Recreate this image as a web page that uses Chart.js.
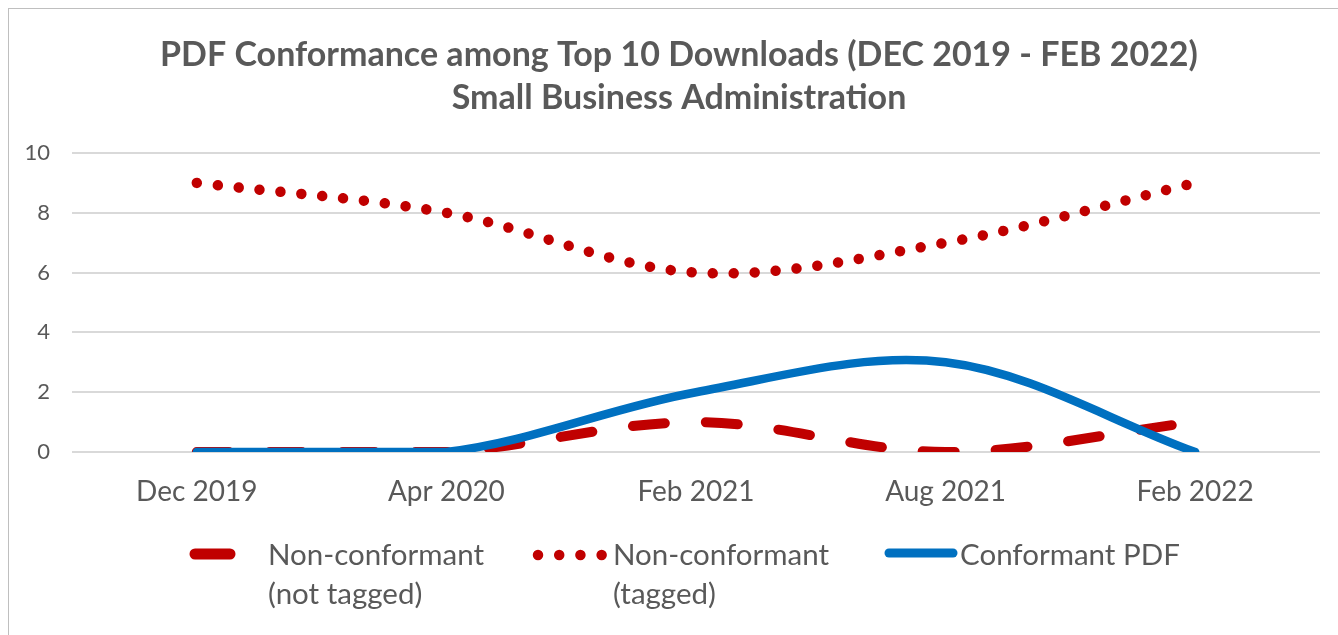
<!DOCTYPE html>
<html>
<head>
<meta charset="utf-8">
<script src="https://cdn.jsdelivr.net/npm/chart.js@4/dist/chart.umd.min.js"></script>
<style>
  html, body { margin: 0; padding: 0; background: #fff; }
  body { width: 1338px; height: 635px; position: relative; overflow: hidden; }
  #frame { position: absolute; left: 8px; top: 8px; width: 1340px; height: 640px; border: 1px solid #bfbfbf; box-sizing: border-box; }
  #wrap { position: absolute; left: 0; top: 0; width: 1338px; height: 635px; }
  .lg { position: absolute; font-family: Lato, sans-serif; font-size: 29.5px; color: #595959; line-height: 39px; white-space: nowrap; }
  .lgs { position: absolute; }
</style>
</head>
<body>
<div id="frame"></div>
<div id="wrap"><canvas id="c" width="1338" height="635"></canvas></div>
<svg class="lgs" style="left:0;top:0" width="1338" height="635" id="legendSvg"></svg>
<div class="lg" id="lg0" style="left:268px;top:534px;"></div>
<div class="lg" id="lg1" style="left:613px;top:534px;"></div>
<div class="lg" id="lg2" style="left:960px;top:534px;"></div>
<script>
const categories = ['Dec 2019', 'Apr 2020', 'Feb 2021', 'Aug 2021', 'Feb 2022'];
const notTagged = [0, 0, 1, 0, 1];
const tagged = [9, 8, 6, 7, 9];
const conformant = [0, 0, 2, 3, 0];
const seriesNames = [['Non-conformant', '(not tagged)'], ['Non-conformant', '(tagged)'], ['Conformant PDF']];
const yTicks = [0, 2, 4, 6, 8, 10];
const titleLines = ['PDF Conformance among Top 10 Downloads (DEC 2019 - FEB 2022)', 'Small Business Administration'];

const RED = '#C00000', BLUE = '#0070C0', GRAY = '#595959';

new Chart(document.getElementById('c'), {
  type: 'line',
  data: {
    labels: categories,
    datasets: [
      { label: seriesNames[2].join(' '), data: conformant, borderColor: BLUE, backgroundColor: BLUE,
        borderWidth: 8.5, borderCapStyle: 'round', borderJoinStyle: 'round', tension: 0.34, pointRadius: 0 },
      { label: seriesNames[0].join(' '), data: notTagged, borderColor: RED, backgroundColor: RED,
        borderWidth: 10, borderDash: [32, 41], borderCapStyle: 'round', tension: 0.34, pointRadius: 0 },
      { label: seriesNames[1].join(' '), data: tagged, borderColor: RED, backgroundColor: RED,
        borderWidth: 10.5, borderDash: [0.01, 21], borderCapStyle: 'round', tension: 0.34, pointRadius: 0 }
    ]
  },
  options: {
    responsive: false,
    animation: false,
    layout: { padding: { left: 20, right: 0, top: 0, bottom: 0 } },
    plugins: {
      legend: { display: false },
      tooltip: { enabled: false },
      title: {
        display: true,
        text: titleLines,
        color: GRAY,
        font: { family: 'Lato', size: 34, weight: 'bold', lineHeight: '43px' },
        padding: { top: 33.5, bottom: 33.5 }
      }
    },
    scales: {
      x: {
        offset: true,
        grid: { display: false, drawTicks: false },
        border: { display: false },
        ticks: { color: GRAY, font: { family: 'Lato', size: 28 }, padding: 23, maxRotation: 0 },
        afterFit: s => { s.height = 183; }
      },
      y: {
        min: 0, max: 10,
        afterBuildTicks: s => { s.ticks = yTicks.map(v => ({ value: v })); },
        grid: { color: '#D9D9D9', lineWidth: 2, drawTicks: false },
        border: { display: false },
        ticks: { color: GRAY, font: { family: 'Lato', size: 22 }, padding: 22 },
        afterFit: s => { s.width = 52; }
      },
      yRight: {
        position: 'right',
        min: 0, max: 10,
        grid: { display: false, drawTicks: false },
        border: { display: false },
        ticks: { display: false },
        afterFit: s => { s.width = 18; }
      }
    }
  }
});

document.getElementById('lg0').innerHTML = seriesNames[0].join('<br>');
document.getElementById('lg1').innerHTML = seriesNames[1].join('<br>');
document.getElementById('lg2').innerHTML = seriesNames[2].join('<br>');
const svg = document.getElementById('legendSvg');
svg.innerHTML =
  '<line x1="195" y1="554" x2="230" y2="554" stroke="' + RED + '" stroke-width="11" stroke-linecap="round"/>' +
  '<line x1="538" y1="555" x2="602" y2="555" stroke="' + RED + '" stroke-width="10.5" stroke-linecap="round" stroke-dasharray="0.01 21.2"/>' +
  '<line x1="889" y1="553" x2="953" y2="553" stroke="' + BLUE + '" stroke-width="9" stroke-linecap="round"/>';
</script>
</body>
</html>
